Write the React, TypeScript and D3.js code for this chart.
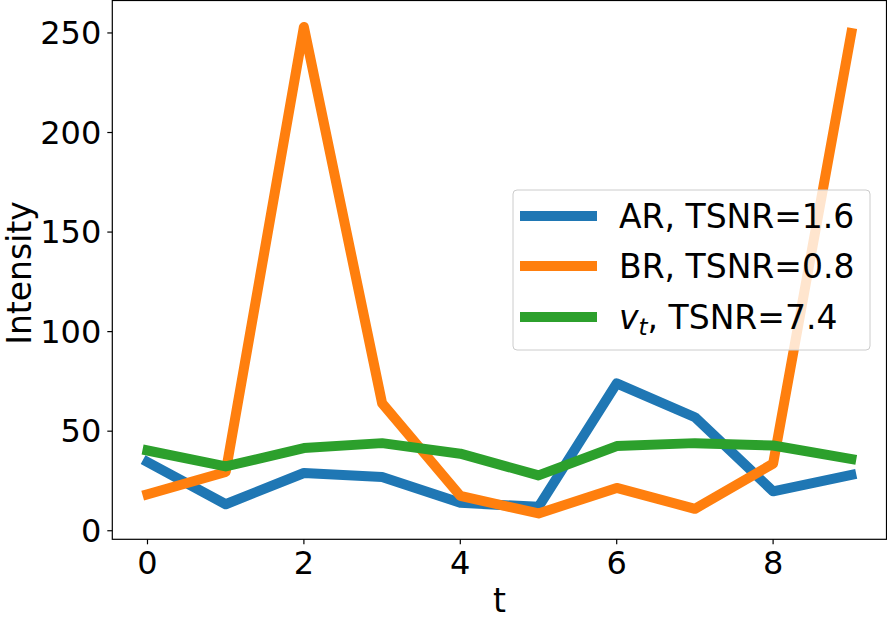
import React from "react";
import * as d3 from "d3";

const tValues = [0, 1, 2, 3, 4, 5, 6, 7, 8, 9];
const arValues = [34.5, 13.3, 29, 27, 14, 12, 74, 57, 19.8, 28];
const brValues = [18.3, 29.5, 253, 64, 17.5, 8.7, 21.5, 11, 33.7, 250];
const vtValues = [40.3, 32.3, 41.5, 44, 38.7, 27.8, 42.5, 44, 42.8, 36];
const xTicks = [0, 2, 4, 6, 8];
const yTicks = [0, 50, 100, 150, 200, 250];
const seriesNames = ["AR", "BR", "vt"];
const seriesColors = ["#1f77b4", "#ff7f0e", "#2ca02c"];
const tsnrLabels = ["1.6", "0.8", "7.4"];

const W = 887;
const H = 620;
const FONT = "DejaVu Sans, sans-serif";

export default function App() {
  const left = 112.3;
  const right = 886.5;
  const top = 0.5;
  const bottom = 539.3;
  const x = d3.scaleLinear().domain([-0.45, 9.45]).range([left, right]);
  const y = d3.scaleLinear().domain([-4.3, 266.3]).range([bottom, top]);
  const line = d3
    .line<number>()
    .x((_, i) => x(tValues[i]))
    .y((d) => y(d));
  const all = [arValues, brValues, vtValues];
  const fs = 32;
  const lfs = 33;

  const legX = 513;
  const legY = 190;
  const legW = 357;
  const legH = 160;
  const rowY = [216, 266, 317];

  return (
    <svg
      width={W}
      height={H}
      style={{ position: "absolute", left: 0, top: 0, background: "#fff" }}
      fontFamily={FONT}
    >
      <rect x={0} y={0} width={W} height={H} fill="#fff" />
      <defs>
        <clipPath id="plotclip">
          <rect x={left} y={top} width={right - left} height={bottom - top} />
        </clipPath>
      </defs>
      <g clipPath="url(#plotclip)">
        {all.map((vals, k) => (
          <path
            key={seriesNames[k]}
            d={line(vals) || ""}
            fill="none"
            stroke={seriesColors[k]}
            strokeWidth={10}
            strokeLinejoin="round"
            strokeLinecap="square"
          />
        ))}
      </g>
      {/* spines */}
      <rect
        x={left}
        y={top}
        width={right - left}
        height={bottom - top}
        fill="none"
        stroke="#000"
        strokeWidth={1.2}
      />
      {/* y ticks */}
      {yTicks.map((v) => (
        <g key={"y" + v}>
          <line x1={left - 5} x2={left} y1={y(v)} y2={y(v)} stroke="#000" strokeWidth={1.2} />
          <text
            x={left - 11}
            y={y(v)}
            fontSize={fs}
            textAnchor="end"
            dominantBaseline="central"
            fill="#000"
          >
            {v}
          </text>
        </g>
      ))}
      {/* x ticks */}
      {xTicks.map((v) => (
        <g key={"x" + v}>
          <line x1={x(v)} x2={x(v)} y1={bottom} y2={bottom + 5} stroke="#000" strokeWidth={1.2} />
          <text x={x(v)} y={574} fontSize={fs} textAnchor="middle" fill="#000">
            {v}
          </text>
        </g>
      ))}
      <text x={(left + right) / 2} y={612} fontSize={lfs} textAnchor="middle" fill="#000">
        t
      </text>
      <text
        transform={`translate(31, 273) rotate(-90)`}
        fontSize={lfs}
        textAnchor="middle"
        fill="#000"
      >
        Intensity
      </text>
      {/* legend */}
      <rect
        x={legX}
        y={legY}
        width={legW}
        height={legH}
        rx={4}
        fill="#fff"
        fillOpacity={0.8}
        stroke="#ccc"
        strokeWidth={1}
      />
      {seriesNames.map((name, k) => (
        <g key={"leg" + name}>
          <line
            x1={520}
            x2={597}
            y1={rowY[k]}
            y2={rowY[k]}
            stroke={seriesColors[k]}
            strokeWidth={10}
          />
          <text x={619} y={rowY[k] + 12} fontSize={lfs} fill="#000">
            {k === 2 ? (
              <>
                <tspan fontStyle="italic">v</tspan>
                <tspan fontStyle="italic" fontSize={lfs * 0.7} dy={6}>
                  t
                </tspan>
                <tspan dy={-6}>, TSNR={tsnrLabels[k]}</tspan>
              </>
            ) : (
              `${name}, TSNR=${tsnrLabels[k]}`
            )}
          </text>
        </g>
      ))}
    </svg>
  );
}
